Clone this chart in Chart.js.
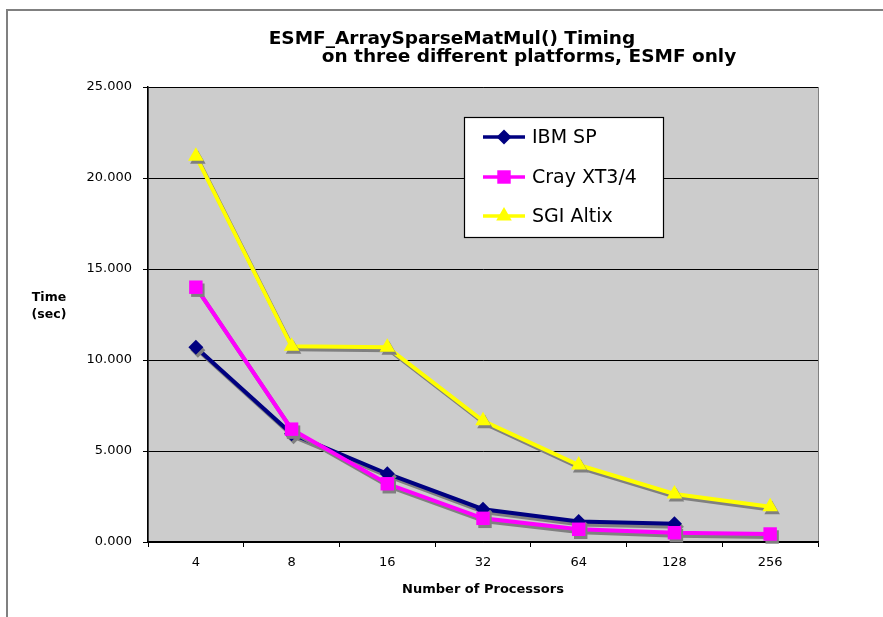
<!DOCTYPE html>
<html>
<head>
<meta charset="utf-8">
<script src="https://cdn.jsdelivr.net/npm/chart.js@4"></script>
<style>
  body { margin: 0; background: #fff; }
  canvas { display: block; }
</style>
</head>
<body>
<canvas id="grafico" width="883" height="617"></canvas>
<script>
// dados
const processadores = ['4', '8', '16', '32', '64', '128', '256'];
const ibmSP = [10.7, 5.95, 3.75, 1.8, 1.13, 1.0, null];
const crayXT = [14.0, 6.2, 3.2, 1.3, 0.7, 0.51, 0.44];
const sgiAltix = [21.2, 10.75, 10.7, 6.66, 4.23, 2.64, 1.94];
const ticksY = [0, 5, 10, 15, 20, 25];

const tituloLinhas = ['ESMF_ArraySparseMatMul() Timing', 'on three different platforms, ESMF only'];

// fundo, moldura, título e rótulo do eixo Y
const moldura = {
  id: 'moldura',
  beforeDraw(chart) {
    const ctx = chart.ctx;
    const a = chart.chartArea;
    ctx.save();
    ctx.fillStyle = '#fff';
    ctx.fillRect(0, 0, chart.width, chart.height);
    ctx.fillStyle = '#cccccc';
    ctx.fillRect(a.left, a.top, a.right - a.left, a.bottom - a.top);
    // borda cinza da área do gráfico
    ctx.strokeStyle = '#808080';
    ctx.lineWidth = 1;
    ctx.strokeRect(a.left + 0.5, a.top + 0.5, a.right - a.left, a.bottom - a.top);
    // moldura externa (só topo e esquerda aparecem)
    ctx.lineWidth = 2;
    ctx.beginPath();
    ctx.moveTo(7, chart.height + 10);
    ctx.lineTo(7, 10);
    ctx.lineTo(chart.width + 10, 10);
    ctx.stroke();
    ctx.restore();
  },
  afterDraw(chart) {
    const ctx = chart.ctx;
    ctx.save();
    ctx.fillStyle = '#000';
    ctx.textBaseline = 'middle';
    ctx.textAlign = 'center';
    ctx.font = 'bold 18.5px "DejaVu Sans"';
    ctx.fillText(tituloLinhas[0], 452, 39);
    ctx.fillText(tituloLinhas[1], 529, 57);
    ctx.font = 'bold 12.5px "DejaVu Sans"';
    ctx.fillText('Time', 49, 298);
    ctx.fillText('(sec)', 49, 315);
    ctx.restore();
  }
};

// sombra cinza das linhas (estilo Excel)
const sombra = {
  id: 'sombra',
  beforeDatasetDraw(chart) {
    const ctx = chart.ctx;
    ctx.save();
    ctx.shadowColor = '#808080';
    ctx.shadowOffsetX = 2;
    ctx.shadowOffsetY = 3;
    ctx.shadowBlur = 0;
  },
  afterDatasetDraw(chart) {
    chart.ctx.restore();
  }
};

// legenda em caixa dentro da área do gráfico
const legendaCaixa = {
  id: 'legendaCaixa',
  afterDatasetsDraw(chart) {
    const ctx = chart.ctx;
    ctx.save();
    ctx.fillStyle = '#fff';
    ctx.fillRect(464, 117, 199, 120);
    ctx.strokeStyle = '#000';
    ctx.lineWidth = 1.2;
    ctx.strokeRect(464.5, 117.5, 199, 120);
    const linhasY = [137, 177, 216];
    chart.data.datasets.forEach((ds, i) => {
      const y = linhasY[i];
      ctx.strokeStyle = ds.borderColor;
      ctx.lineWidth = 3.5;
      ctx.beginPath();
      ctx.moveTo(483, y);
      ctx.lineTo(525, y);
      ctx.stroke();
      ctx.fillStyle = ds.pointBackgroundColor;
      Chart.helpers.drawPoint(ctx, {
        pointStyle: ds.pointStyle, radius: ds.pointRadius, rotation: 0, borderWidth: 0
      }, 504, y);
      ctx.fillStyle = '#000';
      ctx.font = '19px "DejaVu Sans"';
      ctx.textBaseline = 'middle';
      ctx.textAlign = 'left';
      ctx.fillText(ds.label, 532, y + 1);
    });
    ctx.restore();
  }
};

const ctx = document.getElementById('grafico').getContext('2d');
new Chart(ctx, {
  type: 'line',
  data: {
    labels: processadores,
    datasets: [
      {
        label: 'IBM SP', data: ibmSP, order: 3,
        borderColor: '#000080', pointBackgroundColor: '#000080', pointBorderColor: '#000080',
        pointBorderWidth: 0, pointStyle: 'rectRot', pointRadius: 7.5, borderWidth: 4
      },
      {
        label: 'Cray XT3/4', data: crayXT, order: 2,
        borderColor: '#ff00ff', pointBackgroundColor: '#ff00ff', pointBorderColor: '#ff00ff',
        pointBorderWidth: 0, pointStyle: 'rect', pointRadius: 9.5, borderWidth: 4
      },
      {
        label: 'SGI Altix', data: sgiAltix, order: 1,
        borderColor: '#ffff00', pointBackgroundColor: '#ffff00', pointBorderColor: '#ffff00',
        pointBorderWidth: 0, pointStyle: 'triangle', pointRadius: 9, borderWidth: 4
      }
    ]
  },
  options: {
    responsive: false,
    animation: false,
    clip: false,
    layout: { padding: { top: 87, right: 65, left: 0, bottom: 0 } },
    elements: { line: { tension: 0 }, point: { borderWidth: 0, hoverRadius: 7 } },
    plugins: {
      legend: { display: false },
      title: { display: false },
      tooltip: { enabled: false }
    },
    scales: {
      x: { // horizontal
        offset: true,
        afterFit(s) { s.height = 75; },
        grid: { offset: true, drawOnChartArea: false, drawTicks: true, tickLength: 5, color: '#000' },
        border: { color: '#000', width: 1.5 },
        ticks: { color: '#000', padding: 8, font: { family: 'DejaVu Sans', size: 13 } },
        title: {
          display: true, text: 'Number of Processors', color: '#000',
          font: { family: 'DejaVu Sans', size: 13, weight: 'bold' },
          padding: { top: 0, bottom: 20 }
        }
      },
      y: { // vertical
        min: 0, max: 25,
        afterFit(s) { s.width = 148; },
        afterBuildTicks(s) { s.ticks = ticksY.map(v => ({ value: v })); },
        grid: { color: '#000', lineWidth: 1, drawTicks: true, tickLength: 5, tickColor: '#000' },
        border: { color: '#000', width: 1.5 },
        ticks: {
          color: '#000', padding: 11,
          font: { family: 'DejaVu Sans', size: 13 },
          callback: v => v.toFixed(3)
        }
      }
    }
  },
  plugins: [moldura, sombra, legendaCaixa]
});
</script>
</body>
</html>
